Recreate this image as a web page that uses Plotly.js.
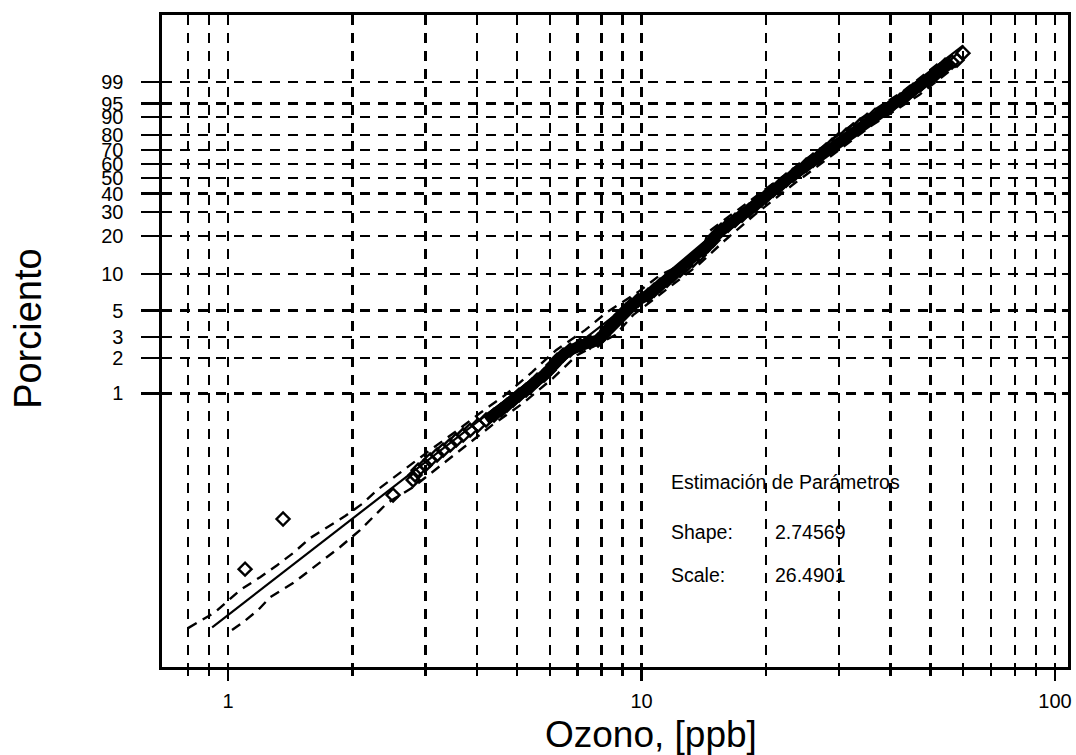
<!DOCTYPE html>
<html><head><meta charset="utf-8">
<script src="https://cdn.plot.ly/plotly-3.0.1.min.js"></script>
<style>html,body{margin:0;padding:0;background:#fff}#chart{width:1076px;height:755px}</style>
</head><body><div id="chart"></div>
<script>
const xTitle = "Ozono, [ppb]";
const yTitle = "Porciento";
const boxTitle = "Estimación de Parámetros";
const shapeParam = "2.74569";
const scaleParam = "26.4901";
const pctTicks = [1, 2, 3, 5, 10, 20, 30, 40, 50, 60, 70, 80, 90, 95, 99];
const xMajorTicks = [1, 10, 100];
const xMinorTicks = [0.8, 0.9, 2, 3, 4, 5, 6, 7, 8, 9, 20, 30, 40, 50, 60, 70, 80, 90];

const obsX = [1.099,1.358,2.506,2.802,2.833,2.881,2.995,3.080,3.202,3.311,3.443,3.560,3.702,3.848,4.023,4.206,4.398,4.573,4.728,4.889,5.054,5.256,5.435,5.588,5.810,5.975,6.109,6.247,6.459,6.716,7.101,7.508,7.850,8.070,8.252,8.484,8.675,8.920,9.172,9.432,9.806,10.368,10.720,11.083,11.525,11.917,12.391,12.811,13.322,13.775,14.083,14.48,14.89,15.14,15.57,16.19,16.83,17.50,18.20,18.82,19.45,20.11,20.80,21.62,22.36,23.25,24.04,25.00,25.99,27.02,27.94,28.89,29.87,31.23,32.47,33.76,35.10,36.70,38.59,40.35,42.19,43.86,45.36,47.17,49.32,51.27,52.72,54.20,56.35,57.94,59.90];
const obsPct = [0.0317,0.085,0.136,0.183,0.202,0.222,0.245,0.271,0.299,0.329,0.363,0.400,0.442,0.487,0.537,0.593,0.654,0.721,0.795,0.877,0.967,1.066,1.176,1.296,1.429,1.575,1.737,1.914,2.110,2.325,2.562,2.718,2.822,3.109,3.425,3.771,4.153,4.571,5.031,5.536,6.089,6.697,7.362,8.090,8.887,9.758,10.708,11.748,12.879,14.110,15.448,16.900,18.473,20.171,22.01,23.98,26.10,28.38,30.80,33.38,36.12,39.01,42.04,45.21,48.51,51.92,55.42,58.99,62.59,66.21,69.79,73.29,76.70,79.95,83.02,85.86,88.44,90.75,92.85,94.56,95.97,97.11,97.99,98.66,99.14,99.48,99.69,99.83,99.886,99.913,99.969];

const fitX = [0.915, 60];
const fitPct = [0.0101, 99.992];

const upperX = [0.800,0.856,0.930,1.069,1.195,1.314,1.436,1.579,1.735,1.919,2.121,2.293,2.506,2.755,3.080,3.540,4.069,4.677,5.435,6.212,7.30,8.252,9.806,11.08,13.93,14.48,17.31,21.62,27.02,33.39,42.66,52.72];
const upperPct = [0.00995,0.0114,0.0136,0.0210,0.0271,0.0343,0.0435,0.0584,0.0725,0.0900,0.116,0.150,0.190,0.245,0.329,0.469,0.681,0.967,1.516,2.325,3.425,4.85,7.10,9.758,14.11,21.32,31.89,49.98,71.34,88.44,97.67,99.886];

const lowerX = [1.022,1.081,1.182,1.264,1.436,1.623,1.866,2.085,2.424,2.802,3.256,3.743,4.351,5.170,6.109,6.982,8.63,9.537,11.46,13.69,15.92,18.71,23.12,28.89,36.09,46.91,57.94];
const lowerPct = [0.00957,0.0110,0.0142,0.0183,0.0241,0.0337,0.0490,0.0684,0.116,0.159,0.240,0.357,0.537,0.827,1.349,2.110,3.109,4.571,7.362,11.748,18.473,28.38,45.21,66.21,85.86,97.11,99.83];

// Weibull probability scale for the percent axis: ln(-ln(1-p))
function weib(p) { const f = p / 100; return Math.log(-Math.log(1 - f)); }

// the densely overlapping observations (above ~0.55 %) merge into a solid band
const denseIdx = obsPct.map((p, i) => i).filter(i => obsPct[i] >= 0.55 && obsPct[i] <= 99.9);
const denseX = denseIdx.map(i => obsX[i]);
const densePct = denseIdx.map(i => obsPct[i]);

const FONT = "Liberation Sans, Arial, Helvetica, sans-serif";
const gridDash = "10px,8px";

const traces = [
  { x: upperX, y: upperPct.map(weib), mode: "lines", type: "scatter",
    line: { color: "#000", width: 2.4, dash: "10px,7px" }, hoverinfo: "skip" },
  { x: lowerX, y: lowerPct.map(weib), mode: "lines", type: "scatter",
    line: { color: "#000", width: 2.4, dash: "10px,7px" }, hoverinfo: "skip" },
  { x: fitX, y: fitPct.map(weib), mode: "lines", type: "scatter",
    line: { color: "#000", width: 2.2 }, hoverinfo: "skip" },
  { x: denseX, y: densePct.map(weib), mode: "lines", type: "scatter",
    line: { color: "#000", width: 11, shape: "linear" }, hoverinfo: "skip" },
  { x: obsX, y: obsPct.map(weib), mode: "markers", type: "scatter",
    marker: { symbol: "diamond-open", size: 10, color: "#000", line: { color: "#000", width: 2.4 } } }
];

const annFont = { family: FONT, size: 19.5, color: "#000" };

const layout = {
  width: 1076, height: 755,
  margin: { l: 162, r: 8, t: 15, b: 88 },
  paper_bgcolor: "#fff", plot_bgcolor: "#fff",
  showlegend: false,
  font: { family: FONT, color: "#000", size: 20 },
  xaxis: {
    type: "log",
    range: [Math.log10(0.692), Math.log10(107.5)],
    tickmode: "array",
    tickvals: xMajorTicks,
    ticktext: xMajorTicks.map(String),
    ticks: "outside", ticklen: 11, tickwidth: 2.4, tickcolor: "#000",
    tickfont: { family: FONT, size: 20, color: "#000" },
    ticklabelstandoff: 3,
    showgrid: true, gridcolor: "#000", gridwidth: 2.3, griddash: gridDash,
    minor: { tickmode: "array", tickvals: xMinorTicks, ticks: "outside", ticklen: 6, tickwidth: 2.4, tickcolor: "#000",
             showgrid: true, gridcolor: "#000", gridwidth: 2.3, griddash: gridDash },
    showline: true, linecolor: "#000", linewidth: 2.6, mirror: true,
    zeroline: false,
    title: { text: "" },
    automargin: false
  },
  yaxis: {
    range: [-9.98, 2.84],
    tickmode: "array",
    tickvals: pctTicks.map(weib),
    ticktext: pctTicks.map(String),
    ticks: "outside", ticklen: 18, tickwidth: 2.4, tickcolor: "#000",
    tickfont: { family: FONT, size: 20, color: "#000" },
    ticklabelstandoff: 14,
    showgrid: true, gridcolor: "#000", gridwidth: 2.3, griddash: gridDash,
    showline: true, linecolor: "#000", linewidth: 2.6, mirror: true,
    zeroline: false,
    title: { text: "" },
    automargin: false
  },
  annotations: [
    { xref: "paper", yref: "paper", x: 0.5397, y: -0.104, xanchor: "center", yanchor: "middle",
      text: xTitle, showarrow: false, font: { family: FONT, size: 37, color: "#000" } },
    { xref: "paper", yref: "paper", x: -0.148, y: 0.52, xanchor: "center", yanchor: "middle", textangle: -90,
      text: yTitle, showarrow: false, font: { family: FONT, size: 38, color: "#000" } },
    { xref: "paper", yref: "paper", x: 0.5596, y: 0.2837, xanchor: "left", yanchor: "middle",
      text: boxTitle, showarrow: false, font: annFont },
    { xref: "paper", yref: "paper", x: 0.5596, y: 0.2071, xanchor: "left", yanchor: "middle",
      text: "Shape:", showarrow: false, font: annFont },
    { xref: "paper", yref: "paper", x: 0.6744, y: 0.2071, xanchor: "left", yanchor: "middle",
      text: shapeParam, showarrow: false, font: annFont },
    { xref: "paper", yref: "paper", x: 0.5596, y: 0.1411, xanchor: "left", yanchor: "middle",
      text: "Scale:", showarrow: false, font: annFont },
    { xref: "paper", yref: "paper", x: 0.6744, y: 0.1411, xanchor: "left", yanchor: "middle",
      text: scaleParam, showarrow: false, font: annFont }
  ]
};

Plotly.newPlot("chart", traces, layout, { staticPlot: true, displayModeBar: false });
</script>
</body></html>
